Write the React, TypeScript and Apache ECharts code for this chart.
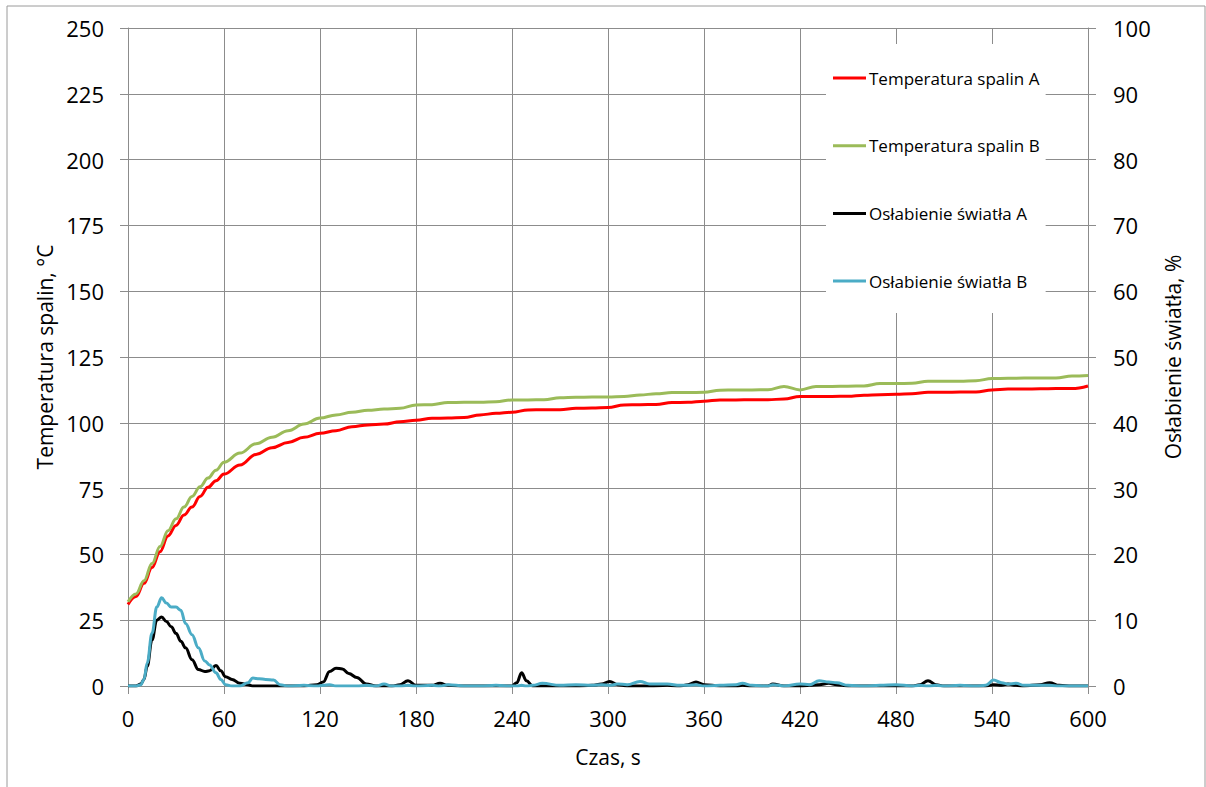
import React, { useEffect, useRef } from "react";
import * as echarts from "echarts";

const tempTimes = [0, 5, 10, 15, 20, 25, 30, 35, 40, 45, 50, 55, 60, 70, 80, 90, 100, 110, 120, 130, 140, 150, 160, 170, 180, 190, 200, 210, 220, 230, 240, 250, 260, 270, 280, 290, 300, 310, 320, 330, 340, 350, 360, 370, 380, 390, 400, 410, 420, 430, 440, 450, 460, 470, 480, 490, 500, 510, 520, 530, 540, 550, 560, 570, 580, 590, 600];
const tempA = [31, 34, 39, 45, 51, 57, 61, 65, 68, 72, 75.5, 78, 80.5, 84, 88, 90.5, 92.5, 94.5, 96, 97, 98.5, 99.2, 99.5, 100.4, 101, 101.7, 101.8, 102, 103, 103.6, 104, 104.9, 105, 105, 105.5, 105.6, 105.8, 106.8, 106.9, 107, 107.7, 107.8, 108.2, 108.7, 108.7, 108.8, 108.8, 109, 110, 110, 110, 110.1, 110.5, 110.7, 110.8, 111, 111.6, 111.6, 111.7, 111.7, 112.5, 112.8, 112.8, 112.9, 113, 113, 114];
const tempB = [32, 35, 40, 46.5, 53, 59, 63.5, 68, 72, 75.7, 79, 82, 85, 88.5, 92, 94.5, 97, 99.5, 101.8, 103, 104, 104.8, 105.2, 105.5, 106.8, 106.9, 107.7, 107.8, 107.8, 108, 108.7, 108.7, 108.8, 109.5, 109.7, 109.8, 109.8, 110, 110.6, 111, 111.5, 111.5, 111.6, 112.4, 112.5, 112.5, 112.6, 113.8, 112.5, 113.8, 113.8, 113.9, 114, 114.9, 114.9, 115, 115.8, 115.8, 115.8, 116, 116.8, 116.9, 117, 117, 117, 117.8, 118];

const smokeTimes = [0, 5, 8, 10, 12, 15, 18, 21, 24, 27, 30, 33, 36, 40, 44, 48, 51, 55, 58, 61, 65, 70, 75, 78, 82, 86, 91, 95, 100, 110, 118, 122, 126, 130, 134, 138, 143, 149, 155, 160, 165, 170, 175, 180, 190, 195, 200, 210, 220, 230, 240, 243, 246, 249, 253, 259, 270, 280, 290, 296, 301, 306, 312, 320, 326, 337, 345, 350, 355, 360, 370, 380, 384, 390, 400, 403, 410, 420, 426, 432, 438, 443, 450, 460, 470, 480, 490, 495, 500, 505, 510, 520, 530, 536, 541, 546, 550, 555, 560, 570, 576, 582, 590, 600];
const smokeA = [0, 0, 0.3, 1, 3, 7, 10, 10.5, 9.8, 9, 8, 6.8, 5.8, 4, 2.5, 2.2, 2.3, 3.1, 2.3, 1.4, 1, 0.4, 0.2, 0, 0, 0, 0, 0, 0, 0, 0.2, 0.6, 2.2, 2.7, 2.6, 1.9, 1.3, 0.3, 0, 0, 0, 0.2, 0.8, 0.1, 0.1, 0.4, 0.1, 0, 0, 0, 0, 0.5, 2, 0.8, 0, 0, 0, 0, 0.1, 0.3, 0.7, 0.2, 0, 0, 0, 0.1, 0, 0.2, 0.6, 0.2, 0, 0, 0.1, 0, 0, 0.3, 0, 0, 0.1, 0.2, 0.4, 0.2, 0, 0, 0, 0, 0, 0.2, 0.8, 0.2, 0, 0, 0, 0, 0.2, 0.1, 0.3, 0.1, 0, 0.2, 0.5, 0.1, 0, 0];
const smokeB = [0, 0, 0.2, 1, 3.5, 8, 12, 13.4, 12.6, 12, 12, 11.5, 9.5, 7.8, 5.8, 3.8, 3.2, 2, 1, 0.2, 0, 0, 0.5, 1.2, 1.1, 1, 0.9, 0.2, 0, 0.1, 0, 0.1, 0.2, 0, 0, 0, 0, 0.1, 0, 0.3, 0, 0, 0.1, 0, 0.1, 0, 0.2, 0, 0, 0.1, 0, 0, 0.1, 0, 0.1, 0.4, 0.1, 0.2, 0.1, 0.2, 0.1, 0.3, 0.2, 0.7, 0.3, 0.3, 0.1, 0.1, 0.2, 0, 0.1, 0.2, 0.4, 0.1, 0, 0.2, 0, 0.3, 0.2, 0.8, 0.6, 0.5, 0.1, 0, 0.1, 0.2, 0, 0.1, 0, 0.1, 0, 0.1, 0, 0.1, 0.9, 0.5, 0.3, 0.4, 0.1, 0.1, 0.1, 0, 0, 0];

const seriesNames = ["Temperatura spalin A", "Temperatura spalin B", "Osłabienie światła A", "Osłabienie światła B"];
const seriesColors = ["#FF0000", "#9BBB59", "#000000", "#4BACC6"];

const FONT = "'Open Sans', sans-serif";
const GRID = "#8c8c8c";

export default function App() {
  const ref = useRef<HTMLDivElement>(null);
  useEffect(() => {
    document.body.style.margin = "0";
    const chart = echarts.init(ref.current!, undefined, { renderer: "svg" });
    const pairs = (xs: number[], ys: number[]) => xs.map((x, i) => [x, ys[i]]);
    const datasets = [
      pairs(tempTimes, tempA),
      pairs(tempTimes, tempB),
      pairs(smokeTimes, smokeA),
      pairs(smokeTimes, smokeB),
    ];
    const axisLabel = { color: "#000", fontSize: 22, fontFamily: FONT };
    chart.setOption({
      animation: false,
      backgroundColor: "#fff",
      textStyle: { fontFamily: FONT },
      graphic: [
        {
          type: "rect",
          shape: { x: 7, y: 6, width: 1198, height: 800 },
          style: { fill: "none", stroke: "#9a9a9a", lineWidth: 1 },
          silent: true,
          z: -10,
        },
      ],
      grid: { left: 128, right: 118, top: 28, bottom: 101 },
      legend: {
        orient: "vertical",
        left: 826,
        top: 44,
        backgroundColor: "#fff",
        padding: [24, 6, 22, 7],
        itemWidth: 33,
        itemHeight: 3,
        itemGap: 47.7,
        icon: "rect",
        data: seriesNames,
        textStyle: { fontSize: 17, fontFamily: FONT, color: "#000", lineHeight: 20, padding: [0, 0, 0, -2] },
        z: 10,
      },
      xAxis: {
        type: "value",
        min: 0,
        max: 600,
        interval: 60,
        name: "Czas, s",
        nameLocation: "middle",
        nameGap: 60,
        nameTextStyle: { fontSize: 21, color: "#000", fontFamily: FONT },
        axisLine: { show: true, lineStyle: { color: GRID } },
        axisTick: { show: true, length: 8, lineStyle: { color: GRID } },
        axisLabel: { ...axisLabel, margin: 21 },
        splitLine: { show: true, lineStyle: { color: GRID, width: 1 } },
      },
      yAxis: [
        {
          type: "value",
          min: 0,
          max: 250,
          interval: 25,
          name: "Temperatura spalin, °C",
          nameLocation: "middle",
          nameRotate: 90,
          nameGap: 70,
          nameTextStyle: { fontSize: 21, color: "#000", fontFamily: FONT },
          axisLine: { show: true, lineStyle: { color: GRID } },
          axisTick: { show: true, length: 8, lineStyle: { color: GRID } },
          axisLabel: { ...axisLabel, margin: 24 },
          splitLine: { show: true, lineStyle: { color: GRID, width: 1 } },
        },
        {
          type: "value",
          min: 0,
          max: 100,
          interval: 10,
          position: "right",
          name: "Osłabienie światła, %",
          nameLocation: "middle",
          nameRotate: 90,
          nameGap: 74,
          nameTextStyle: { fontSize: 21, color: "#000", fontFamily: FONT },
          axisLine: { show: true, lineStyle: { color: GRID } },
          axisTick: { show: true, length: 8, lineStyle: { color: GRID } },
          axisLabel: { ...axisLabel, margin: 25 },
          splitLine: { show: false },
        },
      ],
      series: seriesNames.map((name, i) => ({
        name,
        type: "line",
        yAxisIndex: i < 2 ? 0 : 1,
        data: datasets[i],
        showSymbol: false,
        symbol: "none",
        smooth: 0.4,
        smoothMonotone: "x",
        color: seriesColors[i],
        lineStyle: { width: 3, color: seriesColors[i] },
      })),
    });
    return () => chart.dispose();
  }, []);
  return <div ref={ref} style={{ width: 1206, height: 787 }} />;
}
